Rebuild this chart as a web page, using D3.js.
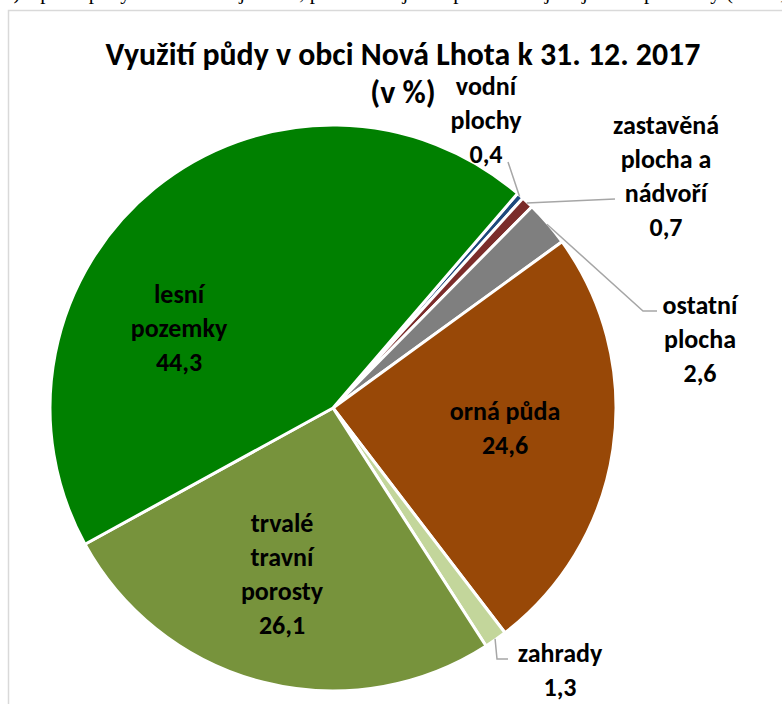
<!DOCTYPE html>
<html>
<head>
<meta charset="utf-8">
<script src="https://cdn.jsdelivr.net/npm/d3@7"></script>
<style>
  body { margin: 0; background: #fff; }
  svg { display: block; }
</style>
</head>
<body>
<div id="chart"></div>
<script>
const width = 782, height = 704;

// data
const categories = ['vodní plochy', 'zastavěná plocha a nádvoří', 'ostatní plocha', 'orná půda', 'zahrady', 'trvalé travní porosty', 'lesní pozemky'];
const values     = [0.4, 0.7, 2.6, 24.6, 1.3, 26.1, 44.3];
const labelLines = [['vodní', 'plochy'], ['zastavěná', 'plocha a', 'nádvoří'], ['ostatní', 'plocha'], ['orná půda'], ['zahrady'], ['trvalé', 'travní', 'porosty'], ['lesní', 'pozemky']];
const colors     = ['#1F497D', '#7B2C2A', '#7F7F7F', '#984807', '#C3D69B', '#77933C', '#008000'];

const titleText = 'Využití půdy v obci Nová Lhota k 31. 12. 2017';
const subTitle  = '(v %)';
const aboveText = '%)    a podíl půdy zemědělské je nižší, přičemž největší plochu zaujímají lesní pozemky (1 102,4 ha, 44,3 %)';

// layout
const pie = {cx: 333, cy: 408, r: 283, start: 40.7};
const font = "Carlito, Lato, 'Liberation Sans', sans-serif";
const labelSize = 26, lineH = 34;
// label block centres, offsets from pie centre
const labelPos = [[153, -288], [333, -232], [367, -69], [172, 20], [227, 262], [-51, 166], [-154, -80]];
// leader line bends/ends, offsets from pie centre
const leaders = [[[175, -246]], [[282, -209]], [[310, -97], [324, -97]], null, [[164, 251], [175, 251]], null, null];

const svg = d3.select('#chart').append('svg')
  .attr('width', width)
  .attr('height', height);

// text cut at the top of the page (only its lower edge shows)
svg.append('text')
  .attr('x', -4).attr('y', -1)
  .style('font-family', "'Liberation Serif', 'DejaVu Serif', serif")
  .style('font-size', '21px')
  .text(aboveText);

// chart frame
svg.append('rect')
  .attr('x', 8.5).attr('y', 10.5)
  .attr('width', 900).attr('height', 900)
  .attr('fill', 'none')
  .attr('stroke', '#D9D9D9')
  .attr('stroke-width', 1.5);

// title, fitted to the width in the picture
const title = svg.append('text')
  .attr('x', 403).attr('y', 65)
  .attr('text-anchor', 'middle')
  .style('font-family', font)
  .style('font-weight', 'bold')
  .style('font-size', '100px')
  .text(titleText);
const titleSize = 100 * 595 / title.node().getComputedTextLength();
title.style('font-size', titleSize + 'px');

svg.append('text')
  .attr('x', 403).attr('y', 103)
  .attr('text-anchor', 'middle')
  .style('font-family', font)
  .style('font-weight', 'bold')
  .style('font-size', titleSize + 'px')
  .text(subTitle);

const rad = Math.PI / 180;
const arcs = d3.pie()
  .sort(null)
  .value(d => d)
  .startAngle(pie.start * rad)
  .endAngle(pie.start * rad + 2 * Math.PI)(values);

const arc = d3.arc().innerRadius(0).outerRadius(pie.r);

const g = svg.append('g')
  .attr('transform', `translate(${pie.cx}, ${pie.cy})`);

g.selectAll('.slice')
  .data(arcs)
  .enter().append('path')
  .attr('class', 'slice')
  .attr('d', arc)
  .attr('fill', (d, i) => colors[i])
  .attr('stroke', '#fff')
  .attr('stroke-width', 3)
  .attr('stroke-linejoin', 'round');

// leader lines from the slice edge
const line = d3.line();
g.selectAll('.leader')
  .data(arcs.filter((d, i) => leaders[i]))
  .enter().append('path')
  .attr('class', 'leader')
  .attr('d', d => {
    const i = d.index;
    const a = (d.startAngle + d.endAngle) / 2;
    const p0 = [Math.sin(a) * (pie.r - 1), -Math.cos(a) * (pie.r - 1)];
    return line([p0].concat(leaders[i]));
  })
  .attr('fill', 'none')
  .attr('stroke', '#A6A6A6')
  .attr('stroke-width', 1.5);

// labels
const labels = g.selectAll('.label')
  .data(arcs)
  .enter().append('text')
  .attr('class', 'label')
  .attr('text-anchor', 'middle')
  .style('font-family', font)
  .style('font-weight', 'bold')
  .style('font-size', labelSize + 'px')
  .attr('fill', '#000');

labels.each(function (d, i) {
  const lines = labelLines[i].concat([d3.format('.1f')(d.data).replace('.', ',')]);
  const [x, y] = labelPos[i];
  const top = y - (lines.length - 1) * lineH / 2 + labelSize * 0.35;
  d3.select(this).selectAll('tspan')
    .data(lines)
    .enter().append('tspan')
    .attr('x', x)
    .attr('y', (t, k) => top + k * lineH)
    .text(t => t);
});
</script>
</body>
</html>
